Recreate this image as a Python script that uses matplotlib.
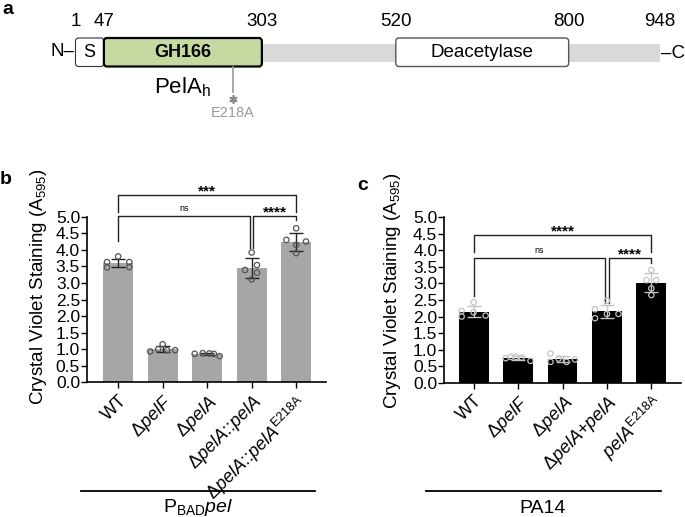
import numpy as np
import matplotlib
matplotlib.use("Agg")
import matplotlib.pyplot as plt
from matplotlib.patches import FancyBboxPatch, Rectangle

plt.rcParams['font.family'] = ['Liberation Sans', 'DejaVu Sans']
plt.rcParams['mathtext.fontset'] = 'custom'
plt.rcParams['mathtext.rm'] = 'Liberation Sans'
plt.rcParams['mathtext.it'] = 'Liberation Sans:italic'
plt.rcParams['mathtext.bf'] = 'Liberation Sans:bold'

# Panel a: PelA domain map (residue numbers)
residue_marks = [1, 47, 303, 520, 800, 948]
domain_names = ["S", "GH166", "Deacetylase"]
domain_starts = [1, 47, 520]
domain_ends = [47, 303, 800]
mutation_label = "E218A"
mutation_site = 256  # where the schematic puts the marker (not to scale)

# Panel b: PBADpel background, crystal violet A595
b_labels = ["WT", r"Δ$\mathit{pelF}$", r"Δ$\mathit{pelA}$",
            r"Δ$\mathit{pelA}$::$\mathit{pelA}$",
            r"Δ$\mathit{pelA}$::$\mathit{pelA}^{\mathrm{E218A}}$"]
b_wt = [3.80, 3.63, 3.63, 3.47, 3.48]
b_pelF = [1.15, 0.93, 1.00, 0.97, 0.97]
b_pelA = [0.86, 0.88, 0.87, 0.86, 0.79]
b_comp = [3.92, 3.54, 3.39, 3.31, 3.11]
b_e218a = [4.65, 4.30, 4.25, 4.15, 3.90]
b_sig_labels = ["***", "ns", "****"]
b_sig_pairs = [(0, 4), (0, 3), (3, 4)]
b_sig_y = [5.65, 5.03, 5.03]
b_sig_legs = [(5.15, 5.15), (4.27, 4.06), (4.06, 4.90)]

# Panel c: PA14 background
c_labels = ["WT", r"Δ$\mathit{pelF}$", r"Δ$\mathit{pelA}$",
            r"Δ$\mathit{pelA}$+$\mathit{pelA}$",
            r"$\mathit{pelA}^{\mathrm{E218A}}$"]
c_wt = [2.43, 2.17, 2.13, 2.00, 2.03]
c_pelF = [0.74, 0.78, 0.78, 0.76, 0.66]
c_pelA = [0.88, 0.63, 0.73, 0.63, 0.70]
c_comp = [2.48, 2.22, 2.08, 2.08, 1.95]
c_e218a = [3.41, 3.10, 3.10, 2.85, 2.65]
c_sig_labels = ["****", "ns", "****"]
c_sig_pairs = [(0, 4), (0, 3), (3, 4)]
c_sig_y = [4.46, 3.78, 3.78]
c_sig_legs = [(3.96, 3.96), (2.62, 2.40), (2.40, 3.61)]

# horizontal spread of the dots inside each bar
b_jitter = [[0, -0.25, 0.25, -0.25, 0.25],
            [0, -0.28, -0.1, 0.1, 0.28],
            [-0.28, -0.1, 0.05, 0.15, 0.28],
            [0, 0.12, -0.15, 0.12, 0],
            [0, -0.22, 0.22, 0, 0]]
c_jitter = [[0, -0.27, 0, -0.27, 0.27],
            [-0.28, -0.16, -0.05, 0.08, 0.28],
            [-0.27, -0.27, -0.09, 0.09, 0.28],
            [0, -0.27, 0, 0.26, -0.27],
            [0, -0.11, 0.11, 0, 0]]
sig_nudge = [(0, 0), (0, -0.04), (0.04, 0)]

W, H = 685, 517


def draw_domains(ax):
    ax.set_xlim(-121.3, 988.5)
    ax.set_ylim(130, 0)
    ax.axis('off')

    # backbone
    ax.add_patch(Rectangle((residue_marks[0], 44), residue_marks[-1] - residue_marks[0], 18,
                           facecolor='#d9d9d9', edgecolor='none', zorder=0))

    faces = ['white', '#c5d9a1', 'white']
    edges = ['#333333', 'black', '#555555']
    widths = [0.8, 1.6, 1.0]
    weights = ['normal', 'bold', 'normal']
    sizes = [13, 13, 13.5]
    for i, name in enumerate(domain_names):
        start, end = domain_starts[i], domain_ends[i]
        box = FancyBboxPatch((start, 38), end - start, 28.5,
                             boxstyle="round,pad=0,rounding_size=5",
                             mutation_aspect=0.617, facecolor=faces[i],
                             edgecolor=edges[i], linewidth=widths[i], zorder=2)
        ax.add_patch(box)
        ax.text((start + end) / 2, 52.5, name, ha='center', va='center',
                fontsize=sizes[i], fontweight=weights[i], zorder=3)

    for r in residue_marks:
        ax.text(r, 21, str(r), ha='center', va='center', fontsize=13.5)

    ax.text(residue_marks[0] - 1, 52, "N–", ha='right', va='center', fontsize=13.5)
    ax.text(residue_marks[-1] + 1, 53, "–C", ha='left', va='center', fontsize=13.5)

    # PelA_h hydrolase module label and the E218A site
    ax.text((domain_starts[1] + domain_ends[1]) / 2, 93, r"PelA$_{\mathrm{h}}$",
            ha='center', va='baseline', fontsize=16)
    ax.plot([mutation_site, mutation_site], [66.5, 91.5], color='#999999', lw=1.2)
    ax.plot([mutation_site], [99], marker=(6, 2, 0), markersize=6,
            color='#888888', markeredgewidth=1.2)
    ax.text(mutation_site, 113, mutation_label, ha='center', va='center',
            fontsize=10.5, color='#999999')


def draw_bars(ax, labels, groups, jitter, bar_color, point_color, err_color,
              sig_labels, sig_pairs, sig_y, sig_legs, xlim):
    x = np.arange(len(groups))
    means = [np.mean(g) for g in groups]
    sds = [np.std(g, ddof=1) for g in groups]

    ax.bar(x, means, width=0.67, color=bar_color, zorder=1)
    ax.errorbar(x, means, yerr=sds, fmt='none', ecolor=err_color, elinewidth=1,
                capsize=5, capthick=1, zorder=3)
    for i, g in enumerate(groups):
        ax.scatter(x[i] + np.array(jitter[i]), g, s=15, facecolors='none',
                   edgecolors=point_color, linewidths=0.9, zorder=4, clip_on=False)

    # significance brackets
    for k, lab in enumerate(sig_labels):
        a, b = sig_pairs[k]
        a += sig_nudge[k][0]
        b += sig_nudge[k][1]
        y = sig_y[k]
        l1, l2 = sig_legs[k]
        ax.plot([a, a, b, b], [l1, y, y, l2], color='#222222', lw=1, clip_on=False)
        if lab == 'ns':
            ax.text((a + b) / 2, y + 0.14, lab, ha='center', va='baseline',
                    fontsize=6.5, clip_on=False)
        else:
            ax.text((a + b) / 2, y - 0.02, lab, ha='center', va='baseline',
                    fontsize=11, fontweight='bold', clip_on=False)

    ax.set_xlim(*xlim)
    ax.set_ylim(0, 5)
    ticks = np.arange(0, 5.01, 0.5)
    ax.set_yticks(ticks)
    ax.set_yticklabels([f"{v:.1f}" for v in ticks])
    ax.set_xticks(x)
    ax.set_xticklabels(labels, rotation=45, ha='right', rotation_mode='anchor', fontsize=13)
    ax.tick_params(axis='y', labelsize=12.5, width=1, length=4, pad=1)
    ax.tick_params(axis='x', width=1, length=4, pad=3)
    ax.set_ylabel(r"Crystal Violet Staining (A$_{595}$)", fontsize=13.5)
    for side in ['top', 'right']:
        ax.spines[side].set_visible(False)
    for side in ['left', 'bottom']:
        ax.spines[side].set_linewidth(1.2)


def main():
    fig = plt.figure(figsize=(W / 100, H / 100), dpi=100)

    ax_a = fig.add_axes([0, 1 - 130 / H, 1, 130 / H])
    draw_domains(ax_a)

    ax_b = fig.add_axes([87 / W, (H - 382.3) / H, 239 / W, 165.6 / H])
    draw_bars(ax_b, b_labels, [b_wt, b_pelF, b_pelA, b_comp, b_e218a], b_jitter,
              '#a6a6a6', '#555555', '#222222',
              b_sig_labels, b_sig_pairs, b_sig_y, b_sig_legs, (-0.70, 4.67))
    ax_b.yaxis.set_label_coords(-0.16, 0.58)
    ax_b.plot([-0.025, 0.954], [-0.656, -0.656], color='black', lw=1.3,
              transform=ax_b.transAxes, clip_on=False)
    ax_b.text(0.464, -0.755, r"P$_{\mathrm{BAD}}$$\mathit{pel}$", ha='center', va='center',
              fontsize=14, transform=ax_b.transAxes)

    ax_c = fig.add_axes([444.3 / W, (H - 382.7) / H, 236.4 / W, 165.4 / H])
    draw_bars(ax_c, c_labels, [c_wt, c_pelF, c_pelA, c_comp, c_e218a], c_jitter,
              'black', '#c4c4c4', '#c4c4c4',
              c_sig_labels, c_sig_pairs, c_sig_y, c_sig_legs, (-0.66, 4.66))
    ax_c.yaxis.set_label_coords(-0.175, 0.555)
    ax_c.plot([-0.077, 0.915], [-0.655, -0.655], color='black', lw=1.3,
              transform=ax_c.transAxes, clip_on=False)
    ax_c.text(0.417, -0.758, "PA14", ha='center', va='center',
              fontsize=14, transform=ax_c.transAxes)

    fig.text(8 / W, 1 - 9 / H, "a", fontsize=14, fontweight='bold', ha='center', va='center')
    fig.text(6 / W, 1 - 180 / H, "b", fontsize=14, fontweight='bold', ha='center', va='center')
    fig.text(363 / W, 1 - 185 / H, "c", fontsize=14, fontweight='bold', ha='center', va='center')

    fig.savefig("out.png", dpi=100)


if __name__ == "__main__":
    main()
